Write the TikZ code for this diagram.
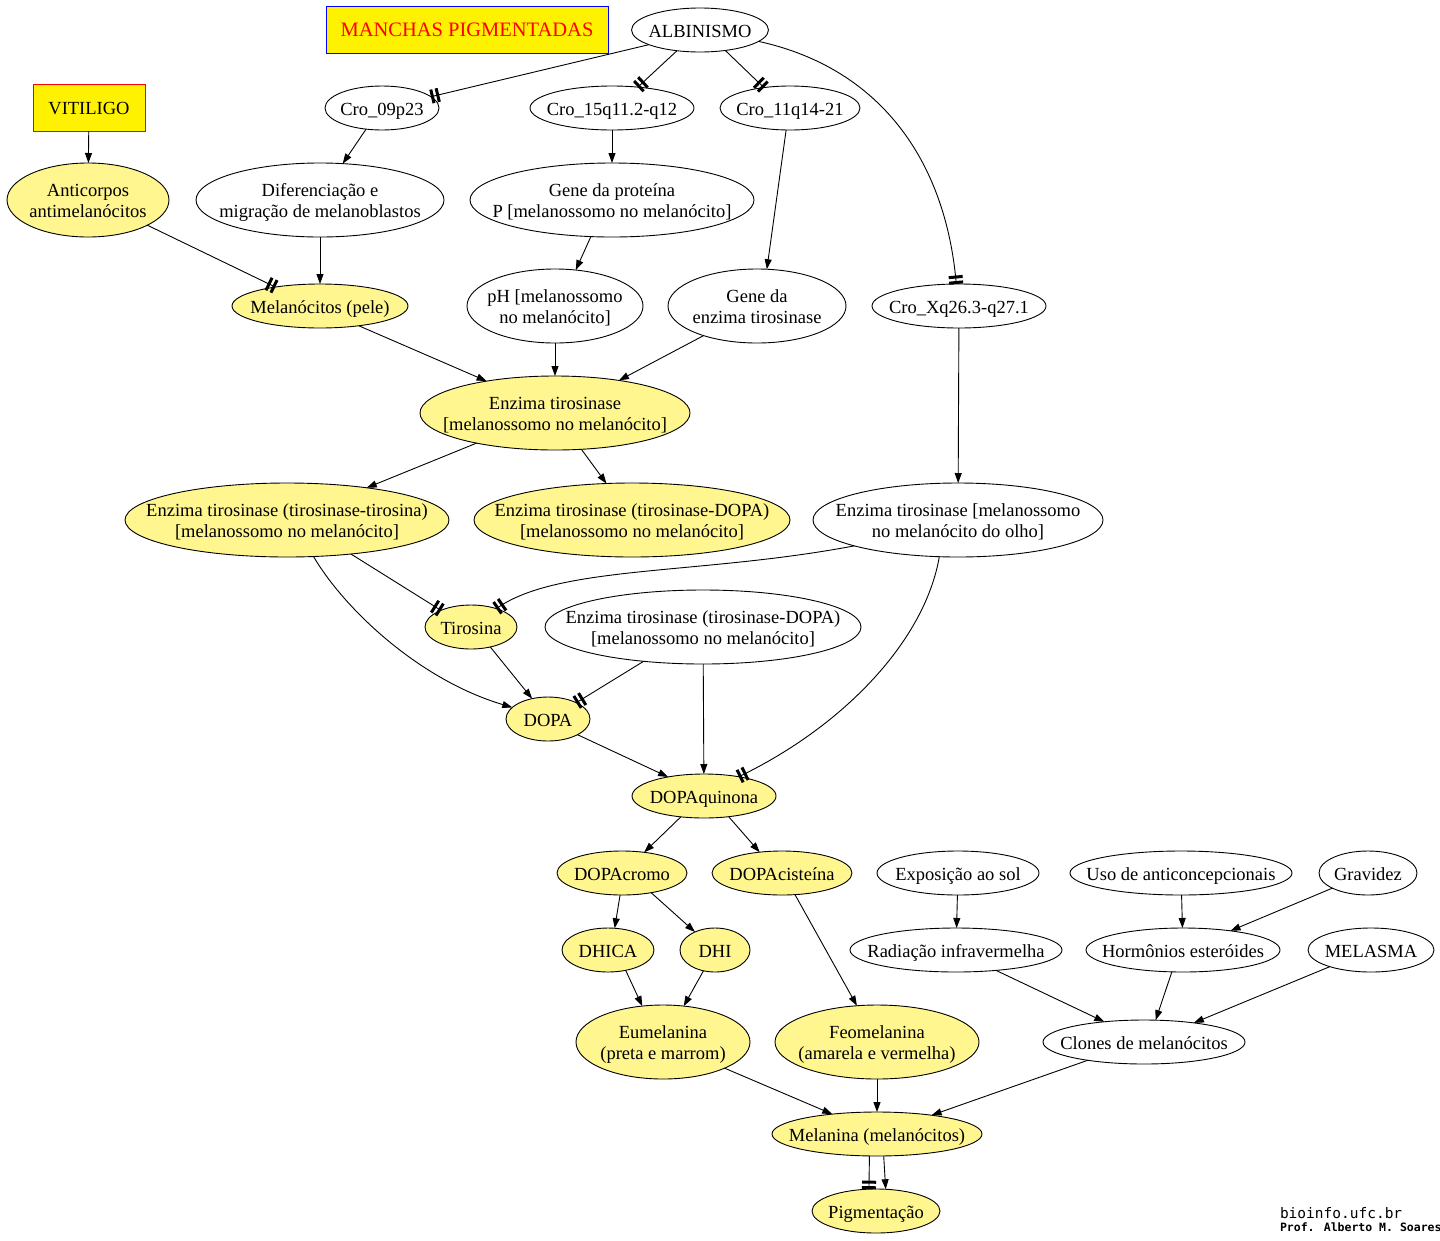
\documentclass[tikz,border=0pt]{standalone}
\usepackage{fontspec}
\setmainfont{Liberation Serif}
\newfontfamily\monof{DejaVu Sans Mono}
\usetikzlibrary{shapes.geometric,arrows.meta}
\definecolor{khaki}{HTML}{FFF68F}
\newcommand\nt[1]{\hbox to 0pt{\hss\smash{\lower3pt\vbox to 0pt{\vss\hbox{\begin{tabular}{@{}c@{}}#1\end{tabular}}\vss}}\hss}}
\tikzset{
  ell/.style={ellipse, draw=black, line width=0.9pt, fill=white},
  yel/.style={ellipse, draw=black, line width=0.9pt, fill=khaki},
  esz/.style 2 args={minimum width=#1pt, minimum height=#2pt},
  box/.style={rectangle, fill=yellow, line width=0.9pt},
  edge/.style={line width=0.9pt, -{Triangle[length=10pt,width=7pt]}},
  inh/.style={line width=0.9pt, -{Bar[width=14pt,line width=3pt,sep=2.5pt]Bar[width=14pt,line width=3pt]}}
}
\begin{document}
\begin{tikzpicture}[x=1pt,y=-1pt,
  every node/.style={font=\fontsize{18.5}{21}\selectfont, inner sep=0pt, outer sep=0pt}]
\useasboundingbox (0,0) rectangle (1440,1240);
\fill[white] (0,0) rectangle (1440,1240);

% boxes
\node[box, draw=blue, esz={282}{47}, text=red] (manchas) at (467,29.5) {\nt{\fontsize{20.5}{21}\selectfont MANCHAS PIGMENTADAS}};
\node[box, draw=red, esz={112}{47}] (vit) at (89,107.5) {\nt{VITILIGO}};

% top ellipses
\node[ell, esz={137}{44}] (alb) at (700,30) {\nt{ALBINISMO}};
\node[ell, esz={114}{44}] (c09) at (382,108) {\nt{Cro\_09p23}};
\node[ell, esz={164}{44}] (c15) at (612,108) {\nt{Cro\_15q11.2-q12}};
\node[ell, esz={140}{44}] (c11) at (790,108) {\nt{Cro\_11q14-21}};

\node[yel, esz={162}{74}] (anti) at (88,200) {\nt{Anticorpos\\antimelanócitos}};
\node[ell, esz={248}{74}] (dif) at (320,200) {\nt{Diferenciação e\\migração de melanoblastos}};
\node[ell, esz={284}{74}] (genp) at (612,200) {\nt{Gene da proteína\\P [melanossomo no melanócito]}};

\node[yel, esz={176}{44}] (mel) at (320,306) {\nt{Melanócitos (pele)}};
\node[ell, esz={176}{74}] (ph) at (555,306) {\nt{pH [melanossomo\\no melanócito]}};
\node[ell, esz={178}{74}] (genet) at (757,306) {\nt{Gene da\\enzima tirosinase}};
\node[ell, esz={174}{44}] (cxq) at (959,306) {\nt{Cro\_Xq26.3-q27.1}};

\node[yel, esz={270}{74}] (enz) at (555,413) {\nt{Enzima tirosinase\\{}[melanossomo no melanócito]}};

\node[yel, esz={324}{74}] (ett) at (287,520) {\nt{Enzima tirosinase (tirosinase-tirosina)\\{}[melanossomo no melanócito]}};
\node[yel, esz={316}{74}] (etd) at (632,520) {\nt{Enzima tirosinase (tirosinase-DOPA)\\{}[melanossomo no melanócito]}};
\node[ell, esz={290}{74}] (olho) at (958,520) {\nt{Enzima tirosinase [melanossomo\\no melanócito do olho]}};

\node[yel, esz={92}{44}] (tir) at (471,627) {\nt{Tirosina}};
\node[ell, esz={316}{74}] (edw) at (703,627) {\nt{Enzima tirosinase (tirosinase-DOPA)\\{}[melanossomo no melanócito]}};

\node[yel, esz={84}{44}] (dopa) at (548,719) {\nt{DOPA}};
\node[yel, esz={144}{44}] (dq) at (704,796) {\nt{DOPAquinona}};

\node[yel, esz={130}{44}] (dc) at (622,873) {\nt{DOPAcromo}};
\node[yel, esz={140}{44}] (dcis) at (782,873) {\nt{DOPAcisteína}};
\node[ell, esz={162}{44}] (exp) at (958,873) {\nt{Exposição ao sol}};
\node[ell, esz={222}{44}] (uso) at (1181,873) {\nt{Uso de anticoncepcionais}};
\node[ell, esz={98}{44}] (grav) at (1368,873) {\nt{Gravidez}};

\node[yel, esz={92}{44}] (dhica) at (608,950) {\nt{DHICA}};
\node[yel, esz={70}{44}] (dhi) at (715,950) {\nt{DHI}};
\node[ell, esz={212}{44}] (rad) at (956,950) {\nt{Radiação infravermelha}};
\node[ell, esz={194}{44}] (horm) at (1183,950) {\nt{Hormônios esteróides}};
\node[ell, esz={126}{44}] (melas) at (1371,950) {\nt{MELASMA}};

\node[yel, esz={174}{74}] (eu) at (663,1042) {\nt{Eumelanina\\(preta e marrom)}};
\node[yel, esz={204}{74}] (feo) at (877,1042) {\nt{Feomelanina\\(amarela e vermelha)}};
\node[ell, esz={202}{44}] (clo) at (1144,1042) {\nt{Clones de melanócitos}};

\node[yel, esz={210}{44}] (mela) at (877,1134) {\nt{Melanina (melanócitos)}};
\node[yel, esz={128}{44}] (pig) at (876,1211) {\nt{Pigmentação}};

\node[anchor=base west, font=\monof\fontsize{14.5}{15}\selectfont] (site) at (1280,1218) {bioinfo.ufc.br};
\node[anchor=base west, font=\monof\bfseries\fontsize{11.5}{12}\selectfont] (prof) at (1280,1231) {Prof. Alberto M. Soares};

% edges
\draw[inh] (alb.196) -- (c09.13);
\draw[inh] (alb.222) -- (c15.39);
\draw[inh] (alb.321) -- (c11.142);
\draw[inh] (alb.-11) .. controls (880,68) and (945,160) .. (cxq.97);

\draw[edge] (vit) -- (anti);
\draw[edge] (c09.233) -- (dif.58);
\draw[edge] (c15) -- (genp);
\draw[edge] (c11.260) -- (genet.75);

\draw[inh] (anti.-23) -- (mel.157);
\draw[edge] (dif) -- (mel);
\draw[edge] (genp.240) -- (ph.60);

\draw[edge] (mel.-27) -- (enz.155);
\draw[edge] (ph) -- (enz);
\draw[edge] (genet.209) -- (enz.27);
\draw[edge] (cxq) -- (olho);

\draw[edge] (enz.201) -- (ett.22);
\draw[edge] (enz.-54) -- (etd.125);

\draw[inh] (ett.-28) -- (tir.151);
\draw[inh] (olho.194) .. controls (700,575) and (560,565) .. (tir.36);
\draw[edge] (ett.-54) .. controls (345,610) and (420,680) .. (dopa.162);
\draw[edge] (tir.-46) -- (dopa.128);
\draw[inh] (edw.210) -- (dopa.30);
\draw[edge] (edw) -- (dq);
\draw[edge] (dopa.-28) -- (dq.152);
\draw[inh] (olho.243) .. controls (925,640) and (845,725) .. (dq.29);

\draw[edge] (dq.222) -- (dc.43);
\draw[edge] (dq.-40) -- (dcis.137);
\draw[edge] (dc.265) -- (dhica.73);
\draw[edge] (dc.-34) -- (dhi.138);
\draw[edge] (dcis.-59) -- (feo.119);
\draw[edge] (exp) -- (rad);
\draw[edge] (uso) -- (horm);
\draw[edge] (grav.203) -- (horm.22);

\draw[edge] (dhica.-49) -- (eu.120);
\draw[edge] (dhi.241) -- (eu.60);
\draw[edge] (rad.-27) -- (clo.153);
\draw[edge] (horm.243) -- (clo.62);
\draw[edge] (melas.202) -- (clo.21);

\draw[edge] (eu.-23) -- (mela.156);
\draw[edge] (feo) -- (mela);
\draw[edge] (clo.198) -- (mela.19);

\draw[inh] (mela.251) -- (pig.108);
\draw[edge] (mela.-73) -- (pig.66);
\end{tikzpicture}
\end{document}
